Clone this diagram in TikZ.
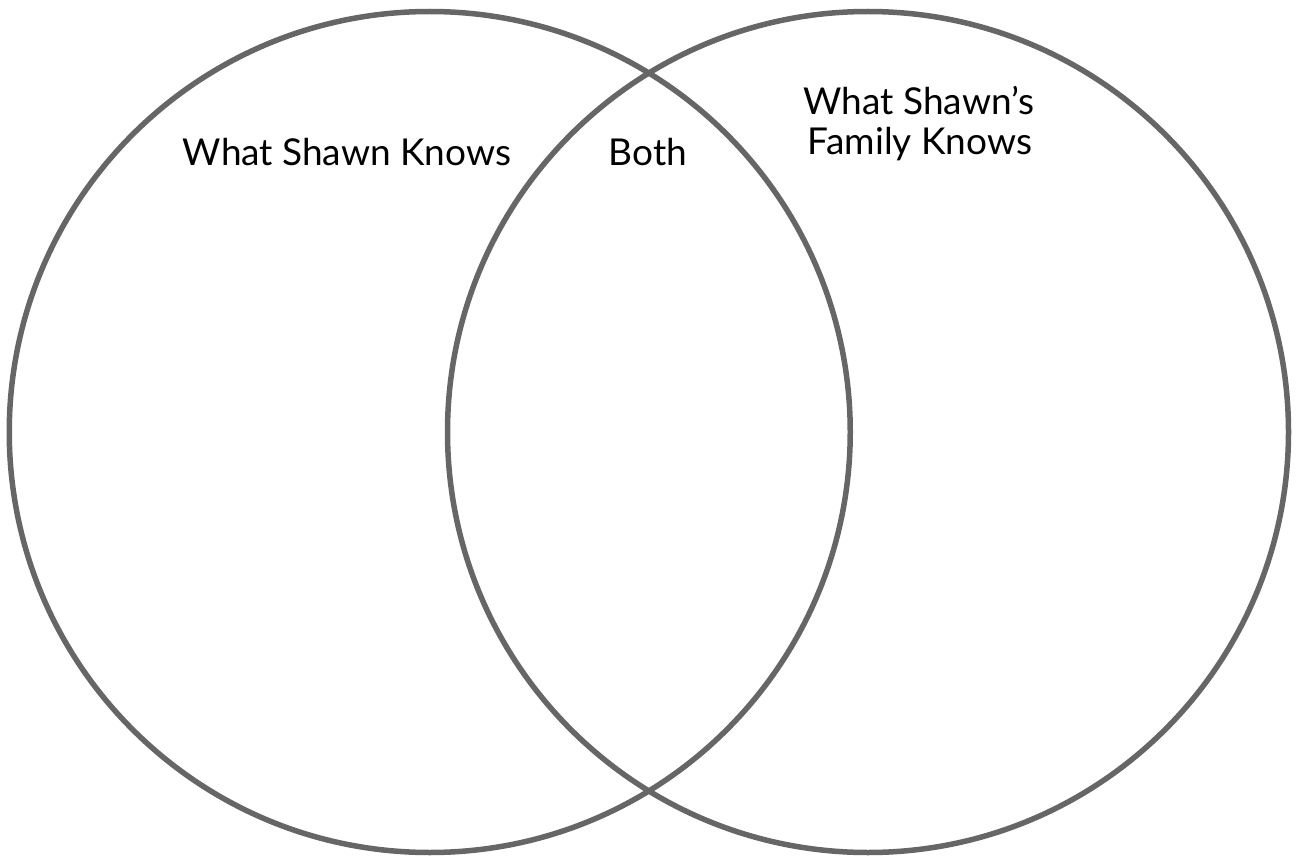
\documentclass[tikz,border=0pt]{standalone}
\usepackage{fontspec}
\setmainfont{Lato}
\definecolor{ringgray}{HTML}{666666}
\tikzset{
  ring/.style={draw=ringgray, line width=5.5pt, circle, minimum size=841pt, inner sep=0pt},
  lbl/.style={font=\fontsize{37}{40}\selectfont, text=black, inner sep=0pt, align=center, anchor=base}
}
\begin{document}
\begin{tikzpicture}[x=1pt,y=-1pt]
\useasboundingbox (0,0) rectangle (1296,856);
\node[ring] (left) at (429.75,432) {};
\node[ring] (right) at (868,432) {};
\node[lbl] (lk) at (347,165) {What Shawn Knows};
\node[lbl] (both) at (648,165) {Both};
\node[lbl] (fk1) at (919,115) {What Shawn's};
\node[lbl] (fk2) at (920,155) {Family Knows};
\end{tikzpicture}
\end{document}
